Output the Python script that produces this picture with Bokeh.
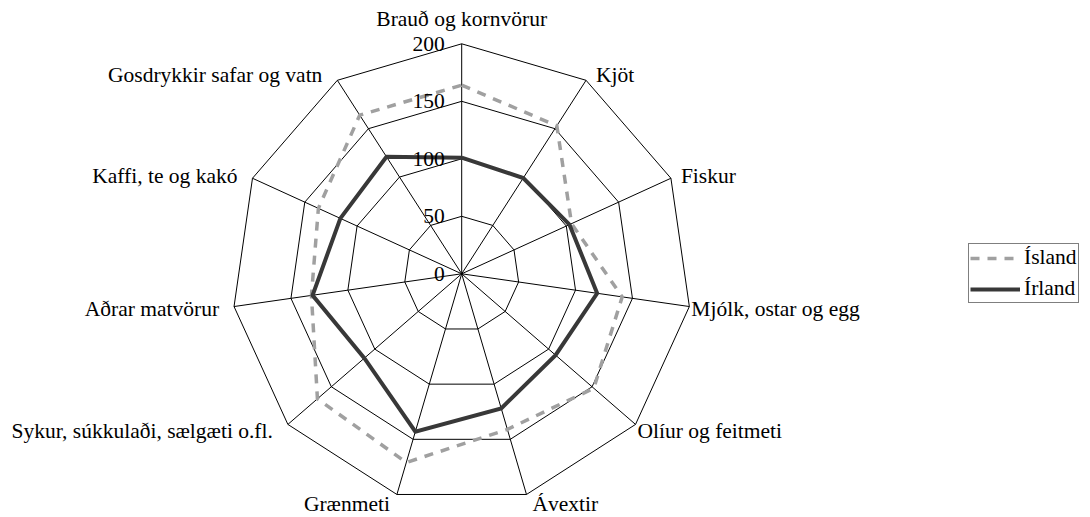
import numpy as np
from bokeh.plotting import figure
from bokeh.models import ColumnDataSource, Legend
from bokeh.core.properties import value
from bokeh.embed import file_html
from bokeh.resources import INLINE

categories = ["Brauð og kornvörur", "Kjöt", "Fiskur", "Mjólk, ostar og egg",
              "Olíur og feitmeti", "Ávextir", "Grænmeti",
              "Sykur, súkkulaði, sælgæti o.fl.", "Aðrar matvörur",
              "Kaffi, te og kakó", "Gosdrykkir safar og vatn"]
island = [164, 153, 105, 141, 152, 141, 171, 166, 132, 137, 164]
irland = [101, 99, 103, 119, 108, 122, 143, 112, 131, 116, 121]
ticks = [0, 50, 100, 150, 200]
tick_labels = ["0", "50", "100", "150", "200"]

FONT = "Liberation Serif"
FS = "21.5px"

n = len(categories)
ang = np.arange(n) * 2 * np.pi / n  # clockwise from top


def polar(r, a):
    r = np.asarray(r, dtype=float)
    return r * np.sin(a), r * np.cos(a)


# 1 data unit = 1.15 px ; centre of radar at (461.2, 273.3) px
W, H = 1090, 517
S = 1.15
cx, cy = 461.2, 273.3
p = figure(width=W, height=H, output_backend="svg", toolbar_location=None,
           x_range=(-cx / S, (W - cx) / S), y_range=(-(H - cy) / S, cy / S),
           x_axis_type=None, y_axis_type=None, min_border=0)
p.grid.visible = False
p.outline_line_color = None

rmax = ticks[-1]
# rings
xs, ys = [], []
for t in ticks[1:]:
    x, y = polar(np.full(n, t), ang)
    xs.append(list(x) + [x[0]])
    ys.append(list(y) + [y[0]])
# spokes
for a in ang:
    x, y = polar([0, rmax], a)
    xs.append(list(x))
    ys.append(list(y))
p.multi_line(xs, ys, line_color="black", line_width=1)

# series
xi, yi = polar(island, ang)
xr, yr = polar(irland, ang)
r_is = p.line(list(xi) + [xi[0]], list(yi) + [yi[0]], line_color="#a0a0a0",
              line_width=3.5, line_dash="9 8", line_join="miter")
r_ir = p.line(list(xr) + [xr[0]], list(yr) + [yr[0]], line_color="#383838",
              line_width=4, line_join="miter")

# category labels
lx, ly = polar(np.full(n, rmax), ang)
aligns, xo, yo = [], [], []
for a in ang:
    s, c = np.sin(a), np.cos(a)
    if abs(s) < 0.01:
        aligns.append("center"); xo.append(0); yo.append(-25)
    elif c < -0.9:
        aligns.append("left" if s > 0 else "right")
        xo.append(6 if s > 0 else -7); yo.append(10)
    elif s > 0:
        aligns.append("left")
        xo.append(10 if c > 0 else 2); yo.append(1 - 8 * c)
    else:
        aligns.append("right")
        xo.append(-15); yo.append(1 - 8 * c)
src = ColumnDataSource(dict(x=lx, y=ly, text=categories, align=aligns,
                            xo=xo, yo=yo))
p.text(x="x", y="y", text="text", source=src, text_align="align",
       text_baseline="middle", x_offset="xo", y_offset="yo",
       text_font=value(FONT), text_font_size=FS, text_color="black")

# tick labels on the top spoke
tsrc = ColumnDataSource(dict(x=[0] * len(ticks), y=ticks, text=tick_labels))
p.text(x="x", y="y", text="text", source=tsrc, text_align="right",
       text_baseline="middle", x_offset=-17, y_offset=0,
       text_font=value(FONT), text_font_size=FS, text_color="black")

legend = Legend(items=[("Ísland", [r_is]), ("Írland", [r_ir])],
                location=(968, 214), label_text_font=FONT,
                label_text_font_size=FS, label_text_color="black",
                border_line_color="black",
                border_line_width=1, background_fill_color="white",
                background_fill_alpha=1, padding=1, spacing=6, margin=0,
                glyph_width=50, glyph_height=20, label_height=20,
                label_standoff=4)
p.add_layout(legend)

open("out.html", "w").write(file_html(p, INLINE))
